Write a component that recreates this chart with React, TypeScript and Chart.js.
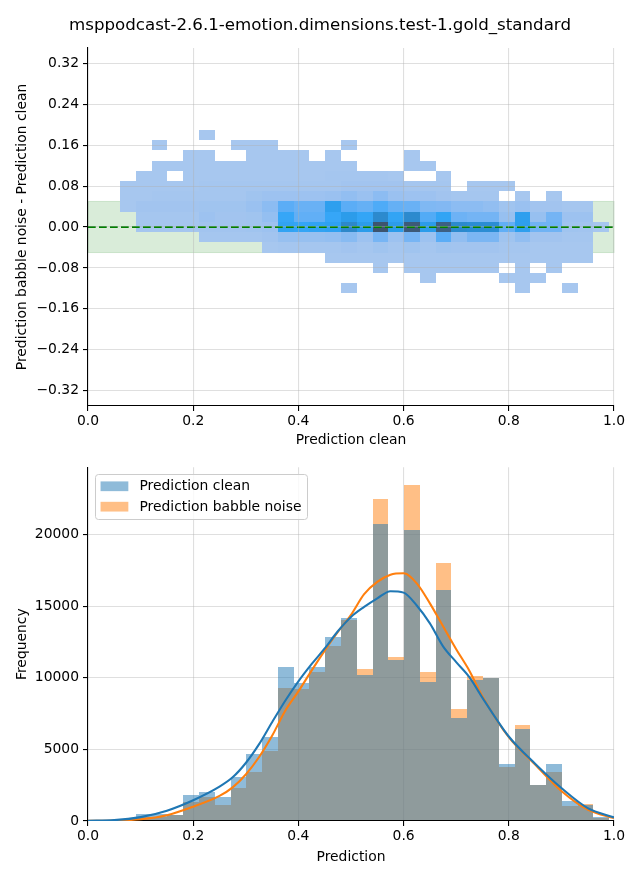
import React, { useEffect, useRef } from 'react';
import { Chart, registerables } from 'chart.js';

Chart.register(...registerables);

// ---------------- text ----------------
const TITLE = 'msppodcast-2.6.1-emotion.dimensions.test-1.gold_standard';
const TOP_X_LABEL = 'Prediction clean';
const TOP_Y_LABEL = 'Prediction babble noise - Prediction clean';
const BOTTOM_X_LABEL = 'Prediction';
const BOTTOM_Y_LABEL = 'Frequency';
const SERIES_NAMES = ['Prediction clean', 'Prediction babble noise'];

// ---------------- data ----------------
// centres of the prediction bins (width 0.03)
const predictionBinCenters = [
  0.016, 0.046, 0.076, 0.106, 0.136, 0.166, 0.196, 0.226, 0.256, 0.286, 0.316,
  0.346, 0.376, 0.406, 0.436, 0.466, 0.496, 0.526, 0.556, 0.586, 0.616, 0.646,
  0.676, 0.706, 0.736, 0.766, 0.796, 0.826, 0.856, 0.886, 0.916, 0.946, 0.976,
];
// centres of the difference bins (height 0.02), top to bottom
const diffBinCenters = [0.18, 0.16, 0.14, 0.12, 0.1, 0.08, 0.06, 0.04, 0.02, 0, -0.02, -0.04, -0.06, -0.08, -0.1, -0.12];
const diffBinHeight = 0.02;

// relative counts of the 2-D histogram, one row per difference bin
const heatCounts: number[][] = [
  [0,0,0,0,0,0,0,2,0,0, 0,0,0,0,0,0,0,0,0,0, 0,0,0,0,0,0,0,0,0,0, 0,0,0],
  [0,0,0,0,2,0,0,0,0,2, 2,2,0,0,0,0,2,0,0,0, 0,0,0,0,0,0,0,0,0,0, 0,0,0],
  [0,0,0,0,0,0,2,2,0,0, 2,2,2,2,0,2,0,0,0,0, 2,0,0,0,0,0,0,0,0,0, 0,0,0],
  [0,0,0,0,2,2,2,2,2,2, 2,2,2,2,2,2,2,0,0,0, 2,2,0,0,0,0,0,0,0,0, 0,0,0],
  [0,0,0,2,2,0,2,2,2,2, 2,2,2,2,2,3,3,3,3,2, 0,0,2,0,0,0,0,0,0,0, 0,0,0],
  [0,0,2,2,2,2,2,3,3,3, 3,3,3,3,3,3,4,4,4,4, 3,3,3,0,2,2,2,0,0,0, 0,0,0],
  [0,0,2,2,3,3,3,3,3,3, 5,6,6,6,6,7,10,7,12,7, 6,6,4,3,3,3,0,2,0,2, 0,0,0],
  [0,0,2,4,4,4,4,5,5,5, 7,12,25,22,22,38,25,23,28,23, 22,16,15,12,12,10,5,7,4,4, 3,3,0],
  [0,0,0,3,3,3,3,6,4,4, 5,9,32,24,24,32,40,33,55,34, 55,27,34,21,19,19,8,38,8,19, 6,6,0],
  [0,0,0,3,3,3,3,4,4,4, 5,6,35,33,35,36,57,40,100,40, 95,40,90,55,52,52,24,38,20,20, 5,4,2],
  [0,0,0,0,0,0,0,3,3,3, 3,4,8,8,8,9,13,6,18,6, 18,6,25,10,17,17,5,10,4,4, 3,3,0],
  [0,0,0,0,0,0,0,0,0,0, 0,2,3,3,3,3,4,3,5,3, 5,3,5,4,4,4,3,3,2,2, 2,2,0],
  [0,0,0,0,0,0,0,0,0,0, 0,0,0,0,0,2,2,2,2,2, 2,2,2,2,2,2,2,2,2,2, 2,2,0],
  [0,0,0,0,0,0,0,0,0,0, 0,0,0,0,0,0,0,0,2,0, 2,2,2,2,2,2,0,2,0,2, 0,0,0],
  [0,0,0,0,0,0,0,0,0,0, 0,0,0,0,0,0,0,0,0,0, 0,2,0,0,0,0,2,2,2,0, 0,0,0],
  [0,0,0,0,0,0,0,0,0,0, 0,0,0,0,0,0,2,0,0,0, 0,0,0,0,0,0,0,2,0,0, 2,0,0],
];

const cleanCounts = [
  40, 60, 80, 480, 480, 440, 1800, 2030, 1660, 3050, 4650, 5900, 10750, 9650, 10750, 12850, 14200,
  10170, 20750, 11210, 20350, 9700, 16150, 7200, 9830, 10000, 4000, 6450, 2480, 3950, 1400, 1100, 280,
];
const babbleCounts = [
  30, 40, 50, 250, 280, 430, 1350, 1650, 1100, 2300, 3450, 4900, 9300, 9200, 10400, 12250, 14050,
  10650, 22500, 11420, 23500, 10400, 18000, 7820, 10100, 9960, 3750, 6700, 2510, 3400, 1050, 1180, 220,
];

const kdeX = [
  0, 0.05, 0.1, 0.15, 0.2, 0.25, 0.275, 0.3, 0.325, 0.35, 0.375, 0.4, 0.425, 0.45, 0.475, 0.5,
  0.525, 0.55, 0.575, 0.6, 0.625, 0.65, 0.675, 0.7, 0.725, 0.75, 0.8, 0.85, 0.9, 0.95, 1.0,
];
const kdeClean = [
  20, 60, 270, 720, 1450, 2400, 3050, 4050, 5350, 6900, 8400, 9750, 10950, 12050, 13250, 14250,
  14950, 15550, 16050, 15950, 15050, 13800, 12200, 11100, 10050, 8600, 5900, 4000, 2300, 900, 250,
];
const kdeBabble = [
  10, 30, 120, 400, 1000, 1750, 2350, 3250, 4450, 5950, 7700, 9050, 10500, 11900, 13200, 14400,
  15850, 16700, 17200, 17300, 16600, 15200, 13600, 12000, 10500, 8700, 5850, 3950, 2100, 800, 200,
];

const xTicks = [0, 0.2, 0.4, 0.6, 0.8, 1.0];
const topYTicks = [-0.32, -0.24, -0.16, -0.08, 0, 0.08, 0.16, 0.24, 0.32];
const bottomYTicks = [0, 5000, 10000, 15000, 20000];
const xRange = [0, 1];
const topYRange = [-0.35, 0.35];
const bottomYRange = [0, 24700];
const toleranceBand = [-0.05, 0.05];
const zeroLine = 0;

// ---------------- styling helpers ----------------
const FONT = '"DejaVu Sans", "Liberation Sans", sans-serif';
const FS = 13.89;
const C0 = '#1f77b4';
const C1 = '#ff7f0e';

// seaborn-like colormap (husl ramp derived from C0)
const HM = [
  [3.2406, -1.5372, -0.4986],
  [-0.9689, 1.8758, 0.0415],
  [0.0557, -0.204, 1.057],
];
const HM_INV = [
  [0.4124, 0.3576, 0.1805],
  [0.2126, 0.7152, 0.0722],
  [0.0193, 0.1192, 0.9505],
];
const REF_U = 0.19784;
const REF_V = 0.46834;
const LAB_E = 0.008856;
const LAB_K = 903.3;

function maxChroma(L: number, H: number) {
  const hrad = (H / 360) * 2 * Math.PI;
  const sinH = Math.sin(hrad);
  const cosH = Math.cos(hrad);
  const sub1 = Math.pow(L + 16, 3) / 1560896;
  const sub2 = sub1 > LAB_E ? sub1 : L / LAB_K;
  let result = Infinity;
  for (const [m1, m2, m3] of HM) {
    const top = (0.99915 * m1 + 1.05122 * m2 + 1.1446 * m3) * sub2;
    const rbottom = 0.8633 * m3 - 0.17266 * m2;
    const lbottom = 0.12949 * m3 - 0.38848 * m1;
    const bottom = (rbottom * sinH + lbottom * cosH) * sub2;
    for (const t of [0, 1]) {
      const C = (L * (top - 1.05122 * t)) / (bottom + 0.17266 * sinH * t);
      if (C > 0 && C < result) result = C;
    }
  }
  return result;
}
const toLinear = (c: number) => (c > 0.04045 ? Math.pow((c + 0.055) / 1.055, 2.4) : c / 12.92);
const fromLinear = (c: number) => (c <= 0.0031308 ? 12.92 * c : 1.055 * Math.pow(c, 1 / 2.4) - 0.055);

function huslToRgb(H: number, S: number, L: number) {
  if (L > 99.9999999) return [1, 1, 1];
  if (L < 1e-8) return [0, 0, 0];
  const C = (maxChroma(L, H) / 100) * S;
  const hrad = (H / 180) * Math.PI;
  const U = Math.cos(hrad) * C;
  const V = Math.sin(hrad) * C;
  const t = (L + 16) / 116;
  const Y = t * t * t > LAB_E ? t * t * t : (116 * t - 16) / LAB_K;
  const varU = U / (13 * L) + REF_U;
  const varV = V / (13 * L) + REF_V;
  const X = -(9 * Y * varU) / ((varU - 4) * varV - varU * varV);
  const Z = (9 * Y - 15 * varV * Y - varV * X) / (3 * varV);
  return HM.map((r) => fromLinear(r[0] * X + r[1] * Y + r[2] * Z));
}
function rgbToHusl(r: number, g: number, b: number) {
  const lin = [r, g, b].map(toLinear);
  const [X, Y, Z] = HM_INV.map((row) => row[0] * lin[0] + row[1] * lin[1] + row[2] * lin[2]);
  const L = Y > LAB_E ? 116 * Math.cbrt(Y) - 16 : LAB_K * Y;
  const den = X + 15 * Y + 3 * Z;
  const U = 13 * L * ((4 * X) / den - REF_U);
  const V = 13 * L * ((9 * Y) / den - REF_V);
  const C = Math.hypot(U, V);
  let H = (Math.atan2(V, U) * 180) / Math.PI;
  if (H < 0) H += 360;
  return [H, (C / maxChroma(L, H)) * 100, L];
}
const [BASE_H, BASE_S] = rgbToHusl(31 / 255, 119 / 255, 180 / 255);
function heatColor(t: number) {
  const i = Math.min(255, Math.max(0, Math.floor(t * 256)));
  const j = 255 - i;
  const xx = -1 + (2 * j) / 293;
  const L = 35 + (45 * j) / 255;
  const rgb = huslToRgb(BASE_H, BASE_S * Math.cos(xx), L).map((c) =>
    Math.round(Math.min(1, Math.max(0, c)) * 255)
  );
  return `rgb(${rgb[0]},${rgb[1]},${rgb[2]})`;
}

const GRID = {
  color: 'rgba(176,176,176,0.4)',
  lineWidth: 1.1,
  drawTicks: true,
  tickLength: 5,
  tickColor: '#000',
  tickWidth: 1.1,
  offset: false,
};
const BORDER = { display: true, color: '#000', width: 1.1 };
const tickFont = { family: FONT, size: FS };
const fmtX = (v: any) => Number(v).toFixed(1);
const fmtDiff = (v: any) => {
  const n = Number(v);
  const s = Math.abs(n).toFixed(2);
  return n < -1e-9 ? '\u2212' + s : s;
};

// snap bar edges to whole pixels so neighbouring bins meet without seams
const snapBarsPlugin = {
  id: 'snapBars',
  beforeDatasetsDraw(chart: any) {
    chart.getSortedVisibleDatasetMetas().forEach((meta: any) => {
      if (meta.type !== 'bar') return;
      meta.data.forEach((el: any) => {
        const l = Math.round(el.x - el.width / 2);
        const r = Math.round(el.x + el.width / 2);
        el.x = (l + r) / 2;
        el.width = r - l;
        el.y = Math.round(el.y);
        el.base = Math.round(el.base);
      });
    });
  },
};

const topPlugin = {
  id: 'topDecor',
  beforeDatasetsDraw(chart: any) {
    const { ctx, scales } = chart;
    const x0 = scales.x.getPixelForValue(xRange[0]);
    const x1 = scales.x.getPixelForValue(xRange[1]);
    const yHi = scales.y.getPixelForValue(toleranceBand[1]);
    const yLo = scales.y.getPixelForValue(toleranceBand[0]);
    ctx.save();
    ctx.fillStyle = 'rgba(0,128,0,0.15)';
    ctx.fillRect(x0, yHi, x1 - x0, yLo - yHi);
    ctx.strokeStyle = 'rgba(0,128,0,0.15)';
    ctx.lineWidth = 1;
    ctx.strokeRect(x0, yHi, x1 - x0, yLo - yHi);
    ctx.restore();
  },
  afterDraw(chart: any) {
    const { ctx } = chart;
    ctx.save();
    ctx.font = `16.67px ${FONT}`;
    ctx.fillStyle = '#000';
    ctx.textAlign = 'center';
    ctx.textBaseline = 'middle';
    ctx.fillText(TITLE, chart.width / 2, 26);
    ctx.restore();
  },
};

const legendPlugin = {
  id: 'mplLegend',
  afterDraw(chart: any) {
    const { ctx, chartArea } = chart;
    const em = FS;
    const pad = 0.4 * em;
    const handleLen = 2.0 * em;
    const handleH = 0.7 * em;
    const textPad = 0.8 * em;
    const spacing = 0.5 * em;
    const rowH = 13.45;
    ctx.save();
    ctx.font = `${FS}px ${FONT}`;
    const textW = Math.max(...SERIES_NAMES.map((n) => ctx.measureText(n).width));
    const left = Math.round(chartArea.left + 0.5 * em);
    const top = Math.round(chartArea.top + 0.5 * em);
    const w = Math.round(pad + handleLen + textPad + textW + pad);
    const h = Math.round(2 * pad + 2 * rowH + spacing);
    ctx.beginPath();
    if (ctx.roundRect) ctx.roundRect(left + 0.5, top + 0.5, w, h, 3);
    else ctx.rect(left + 0.5, top + 0.5, w, h);
    ctx.fillStyle = 'rgba(255,255,255,0.8)';
    ctx.fill();
    ctx.strokeStyle = '#cccccc';
    ctx.lineWidth = 1;
    ctx.stroke();
    const colors = ['rgba(31,119,180,0.5)', 'rgba(255,127,14,0.5)'];
    SERIES_NAMES.forEach((name, i) => {
      const cy = top + pad + rowH / 2 + i * (rowH + spacing);
      ctx.fillStyle = colors[i];
      ctx.fillRect(left + pad, cy - handleH / 2, handleLen, handleH);
      ctx.fillStyle = '#000';
      ctx.textAlign = 'left';
      ctx.textBaseline = 'middle';
      ctx.fillText(name, left + pad + handleLen + textPad, cy + 0.5);
    });
    ctx.restore();
  },
};

function buildTopConfig(): any {
  const maxCount = Math.max(...heatCounts.map((r) => Math.max(...r)));
  const cells: any[] = [];
  const colors: string[] = [];
  diffBinCenters.forEach((yc, r) => {
    heatCounts[r].forEach((count, c) => {
      if (count > 0) {
        cells.push({ x: predictionBinCenters[c], y: [yc - diffBinHeight / 2, yc + diffBinHeight / 2] });
        colors.push(heatColor(count / maxCount));
      }
    });
  });
  return {
    type: 'bar',
    data: {
      datasets: [
        {
          type: 'line',
          data: [
            { x: xRange[0], y: zeroLine },
            { x: xRange[1], y: zeroLine },
          ],
          borderColor: '#008000',
          borderWidth: 2.08,
          borderDash: [7.7, 3.3],
          pointRadius: 0,
          order: 0,
        },
        {
          type: 'bar',
          data: cells,
          backgroundColor: colors,
          borderWidth: 0,
          barPercentage: 1,
          categoryPercentage: 1,
          grouped: false,
          inflateAmount: 0,
          order: 1,
        },
      ],
    },
    options: {
      animation: false,
      responsive: false,
      devicePixelRatio: 1,
      layout: { padding: { left: 0, right: 26, top: 48, bottom: 0 } },
      plugins: { legend: { display: false }, tooltip: { enabled: false } },
      scales: {
        x: {
          type: 'linear',
          min: xRange[0],
          max: xRange[1],
          offset: false,
          grid: { ...GRID, z: 1 },
          border: { ...BORDER, z: 2 },
          ticks: { font: tickFont, color: '#000', padding: 2, maxRotation: 0, autoSkip: false, callback: fmtX },
          title: { display: true, text: TOP_X_LABEL, color: '#000', font: tickFont, padding: { top: 0, bottom: 6 } },
          afterBuildTicks: (s: any) => {
            s.ticks = xTicks.map((value) => ({ value }));
          },
          afterFit: (s: any) => {
            s.height = 49;
          },
        },
        y: {
          type: 'linear',
          min: topYRange[0],
          max: topYRange[1],
          grid: { ...GRID, z: 1 },
          border: { ...BORDER, z: 2 },
          ticks: { font: tickFont, color: '#000', padding: 4, autoSkip: false, callback: fmtDiff },
          title: { display: true, text: TOP_Y_LABEL, color: '#000', font: tickFont, padding: { top: 13.7, bottom: 0 } },
          afterBuildTicks: (s: any) => {
            s.ticks = topYTicks.map((value) => ({ value }));
          },
          afterFit: (s: any) => {
            s.width = 88;
          },
        },
      },
    },
    plugins: [snapBarsPlugin, topPlugin],
  };
}

function buildBottomConfig(): any {
  return {
    type: 'bar',
    data: {
      datasets: [
        {
          type: 'line',
          data: kdeX.map((x, i) => ({ x, y: kdeClean[i] })),
          borderColor: C0,
          borderWidth: 2.08,
          pointRadius: 0,
          cubicInterpolationMode: 'monotone',
          order: 0,
        },
        {
          type: 'line',
          data: kdeX.map((x, i) => ({ x, y: kdeBabble[i] })),
          borderColor: C1,
          borderWidth: 2.08,
          pointRadius: 0,
          cubicInterpolationMode: 'monotone',
          order: 0,
        },
        {
          type: 'bar',
          label: SERIES_NAMES[0],
          data: predictionBinCenters.map((x, i) => ({ x, y: cleanCounts[i] })),
          backgroundColor: 'rgba(31,119,180,0.5)',
          borderWidth: 0,
          barPercentage: 1,
          categoryPercentage: 1,
          grouped: false,
          inflateAmount: 0,
          order: 1,
        },
        {
          type: 'bar',
          label: SERIES_NAMES[1],
          data: predictionBinCenters.map((x, i) => ({ x, y: babbleCounts[i] })),
          backgroundColor: 'rgba(255,127,14,0.5)',
          borderWidth: 0,
          barPercentage: 1,
          categoryPercentage: 1,
          grouped: false,
          inflateAmount: 0,
          order: 1,
        },
      ],
    },
    options: {
      animation: false,
      responsive: false,
      devicePixelRatio: 1,
      layout: { padding: { left: 0, right: 26, top: 9, bottom: 0 } },
      plugins: { legend: { display: false }, tooltip: { enabled: false } },
      scales: {
        x: {
          type: 'linear',
          min: xRange[0],
          max: xRange[1],
          offset: false,
          grid: GRID,
          border: BORDER,
          ticks: { font: tickFont, color: '#000', padding: 2, maxRotation: 0, autoSkip: false, callback: fmtX },
          title: { display: true, text: BOTTOM_X_LABEL, color: '#000', font: tickFont, padding: { top: 0, bottom: 14.7 } },
          afterBuildTicks: (s: any) => {
            s.ticks = xTicks.map((value) => ({ value }));
          },
          afterFit: (s: any) => {
            s.height = 59;
          },
        },
        y: {
          type: 'linear',
          min: bottomYRange[0],
          max: bottomYRange[1],
          grid: GRID,
          border: BORDER,
          ticks: { font: tickFont, color: '#000', padding: 4, autoSkip: false, callback: (v: any) => String(v) },
          title: { display: true, text: BOTTOM_Y_LABEL, color: '#000', font: tickFont, padding: { top: 13.7, bottom: 0 } },
          afterBuildTicks: (s: any) => {
            s.ticks = bottomYTicks.map((value) => ({ value }));
          },
          afterFit: (s: any) => {
            s.width = 88;
          },
        },
      },
    },
    plugins: [snapBarsPlugin, legendPlugin],
  };
}

export default function App() {
  const topRef = useRef<HTMLCanvasElement>(null);
  const bottomRef = useRef<HTMLCanvasElement>(null);

  useEffect(() => {
    const top = new Chart(topRef.current as HTMLCanvasElement, buildTopConfig());
    const bottom = new Chart(bottomRef.current as HTMLCanvasElement, buildBottomConfig());
    return () => {
      top.destroy();
      bottom.destroy();
    };
  }, []);

  return (
    <div style={{ position: 'absolute', left: 0, top: 0, width: 640, height: 880, background: '#fff' }}>
      <canvas
        ref={topRef}
        width={640}
        height={455}
        style={{ position: 'absolute', left: 0, top: 0, width: 640, height: 455 }}
      />
      <canvas
        ref={bottomRef}
        width={640}
        height={425}
        style={{ position: 'absolute', left: 0, top: 455, width: 640, height: 425 }}
      />
    </div>
  );
}
